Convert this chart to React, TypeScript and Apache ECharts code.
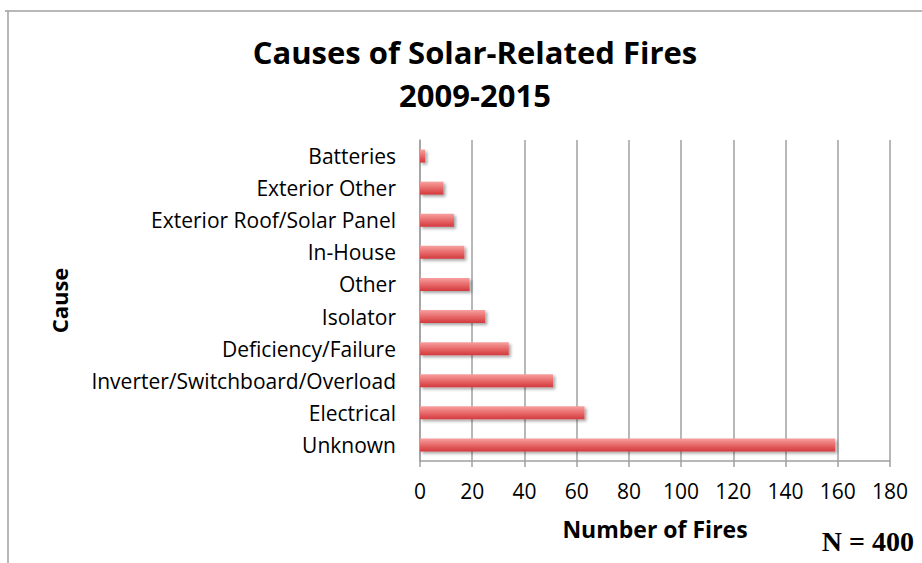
import React, { useEffect, useRef } from "react";
import * as echarts from "echarts";

const categories = [
  "Batteries",
  "Exterior Other",
  "Exterior Roof/Solar Panel",
  "In-House",
  "Other",
  "Isolator",
  "Deficiency/Failure",
  "Inverter/Switchboard/Overload",
  "Electrical",
  "Unknown",
];
const fires = [2, 9, 13, 17, 19, 25, 34, 51, 63, 159];
const xTicks = { min: 0, max: 180, interval: 20 };

export default function App() {
  const ref = useRef<HTMLDivElement>(null);
  useEffect(() => {
    const chart = echarts.init(ref.current!, null, { renderer: "svg" });
    const font = "'Open Sans', sans-serif";
    chart.setOption({
      animation: false,
      backgroundColor: "#fff",
      title: {
        text: "Causes of Solar-Related Fires\n2009-2015",
        left: 470,
        top: 25,
        textAlign: "center",
        textStyle: { fontFamily: font, fontSize: 31, fontWeight: "bold", color: "#000", lineHeight: 43 },
      },
      grid: { left: 420, right: 32, top: 140, bottom: 102 },
      xAxis: {
        type: "value",
        min: xTicks.min,
        max: xTicks.max,
        interval: xTicks.interval,
        name: "Number of Fires",
        nameLocation: "middle",
        nameGap: 56,
        nameTextStyle: { fontFamily: font, fontSize: 23, fontWeight: "bold", color: "#000" },
        axisLine: { show: true, lineStyle: { color: "#a0a0a0", width: 1.5 } },
        axisTick: { show: true, length: 6, lineStyle: { color: "#a0a0a0", width: 1.5 } },
        axisLabel: { fontFamily: font, fontSize: 21, color: "#000", margin: 19 },
        splitLine: { show: true, lineStyle: { color: "#a0a0a0", width: 1.5 } },
      },
      yAxis: {
        type: "category",
        data: categories,
        inverse: true,
        name: "Cause",
        nameLocation: "middle",
        nameGap: 350,
        nameRotate: 90,
        nameTextStyle: { fontFamily: font, fontSize: 22, fontWeight: "bold", color: "#000" },
        axisLine: { show: true, lineStyle: { color: "#a0a0a0", width: 1.5 } },
        axisTick: { show: false },
        axisLabel: { fontFamily: font, fontSize: 21, color: "#000", margin: 24 },
      },
      series: [
        {
          type: "bar",
          data: fires,
          barWidth: 13,
          itemStyle: {
            color: new echarts.graphic.LinearGradient(0, 0, 0, 1, [
              { offset: 0, color: "#f7a0a0" },
              { offset: 0.5, color: "#e86a6a" },
              { offset: 1, color: "#d2393e" },
            ]),
            shadowColor: "rgba(0,0,0,0.35)",
            shadowBlur: 3,
            shadowOffsetX: 2,
            shadowOffsetY: 2,
          },
        },
      ],
      graphic: [
        { type: "line", shape: { x1: 5, y1: 11, x2: 922, y2: 11 }, style: { stroke: "#a0a0a0", lineWidth: 1.5 } },
        { type: "line", shape: { x1: 8, y1: 11, x2: 8, y2: 563 }, style: { stroke: "#a0a0a0", lineWidth: 1.5 } },
        {
          type: "text",
          right: 8,
          top: 527,
          style: { text: "N = 400", font: "bold 28px 'Liberation Serif', 'DejaVu Serif', serif", fill: "#000" },
        },
      ],
    });
    return () => chart.dispose();
  }, []);
  return <div ref={ref} style={{ position: "fixed", left: 0, top: 0, width: 922, height: 563 }} />;
}
